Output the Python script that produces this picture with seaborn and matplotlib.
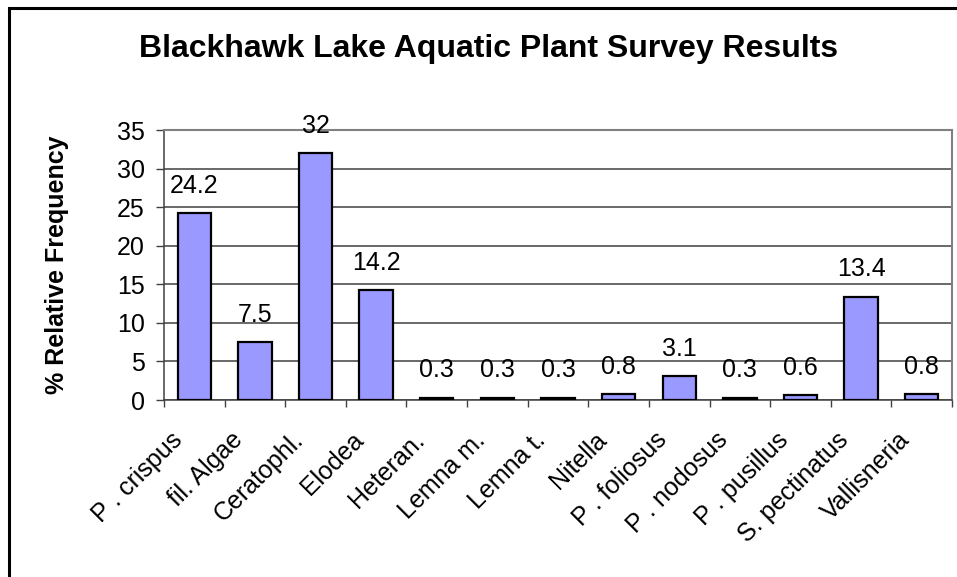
import matplotlib
matplotlib.use("Agg")
import matplotlib.pyplot as plt
import matplotlib.transforms as mtransforms
from matplotlib.patches import Rectangle
import seaborn as sns
import numpy as np

# data
species = ['P . crispus', 'fil. Algae', 'Ceratophl.', 'Elodea', 'Heteran.',
           'Lemna m.', 'Lemna t.', 'Nitella', 'P . foliosus', 'P . nodosus',
           'P . pusillus', 'S. pectinatus', 'Vallisneria']
freq = [24.2, 7.5, 32, 14.2, 0.3, 0.3, 0.3, 0.8, 3.1, 0.3, 0.6, 13.4, 0.8]
yticks = [0, 5, 10, 15, 20, 25, 30, 35]

sns.set_style('white')
plt.rcParams['font.family'] = ['Liberation Sans', 'DejaVu Sans']
plt.rcParams['text.color'] = 'black'
plt.rcParams['axes.labelcolor'] = 'black'
plt.rcParams['xtick.color'] = 'black'
plt.rcParams['ytick.color'] = 'black'

fs = 18

fig = plt.figure(figsize=(9.57, 5.77), dpi=100)
ax = fig.add_axes([164/957, 1-400/577, (952-164)/957, 270/577])

sns.barplot(x=species, y=freq, color='#9999FF', saturation=1, edgecolor='black',
            linewidth=1.6, width=0.55, ax=ax, zorder=3)

ax.bar_label(ax.containers[0], labels=['%g' % v for v in freq], padding=11,
             fontsize=fs, color='black')

ax.set_ylim(0, 35)
ax.set_xlim(-0.5, len(species) - 0.5)
ax.set_yticks(yticks)
ax.tick_params(axis='y', labelsize=fs, length=6, width=1, color='#404040',
               labelcolor='black', direction='out', pad=8, left=True)
ax.yaxis.grid(True, color='#404040', linewidth=1.1, zorder=0)
ax.set_axisbelow(True)

# x ticks at category boundaries, labels at centres
ax.set_xticks(np.arange(len(species)))
ax.set_xticks(np.arange(len(species) + 1) - 0.5, minor=True)
ax.tick_params(axis='x', which='major', length=0, pad=26, labelsize=fs,
               labelcolor='black')
ax.tick_params(axis='x', which='minor', length=5, width=1, color='#404040',
               direction='out', bottom=True)
offset = mtransforms.ScaledTranslation(-16/100, 0, fig.dpi_scale_trans)
for lab in ax.get_xticklabels():
    lab.set_rotation(45)
    lab.set_ha('right')
    lab.set_va('center')
    lab.set_rotation_mode('anchor')
    lab.set_transform(lab.get_transform() + offset)

ax.set_xlabel('')
ax.set_ylabel('% Relative Frequency', fontsize=fs, fontweight='bold')
ax.yaxis.set_label_coords(-0.12, 0.5)

for s in ['left', 'bottom']:
    ax.spines[s].set_color('#404040')
    ax.spines[s].set_linewidth(1.1)
for s in ['top', 'right']:
    ax.spines[s].set_color('#808080')
    ax.spines[s].set_linewidth(1.5)

fig.text(488.5/957, 1 - 49/577, 'Blackhawk Lake Aquatic Plant Survey Results',
         ha='center', va='center', fontsize=23, fontweight='bold')

# outer chart border (clipped at right/bottom like the reference)
fig.patches.append(Rectangle((9/957, -0.05), 1.0, 1 - 8/577 + 0.05,
                             transform=fig.transFigure, fill=False,
                             edgecolor='black', linewidth=2.2))

fig.savefig('out.png', dpi=100)
